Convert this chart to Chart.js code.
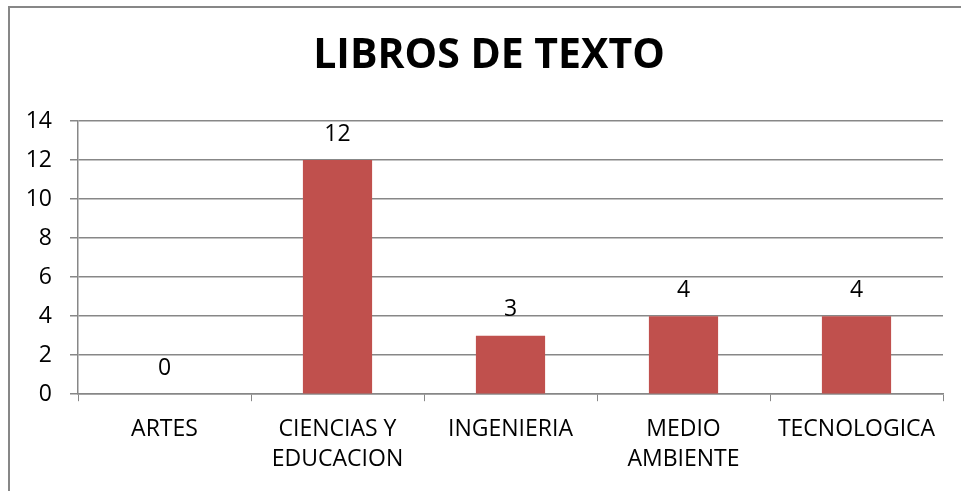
<!DOCTYPE html>
<html>
<head>
<meta charset="utf-8">
<script src="https://cdn.jsdelivr.net/npm/chart.js@4"></script>
<style>
    html, body { margin: 0; padding: 0; background: #fff; overflow: hidden; }
    #wrap { position: relative; width: 961px; height: 491px; }
    #frame { position: absolute; left: 8px; top: 6px; width: 1100px; height: 800px;
             border: 2px solid #878787; pointer-events: none; }
</style>
</head>
<body>
<div id="wrap">
    <canvas id="librosChart" width="961" height="491"></canvas>
    <div id="frame"></div>
</div>
<script>
// Chart data
const categories = ['ARTES', ['CIENCIAS Y', 'EDUCACION'], 'INGENIERIA', ['MEDIO', 'AMBIENTE'], 'TECNOLOGICA'];
const librosValues = [0, 12, 3, 4, 4];
const yTicks = [0, 2, 4, 6, 8, 10, 12, 14];
const chartTitle = 'LIBROS DE TEXTO';

const FONT = "'Open Sans', sans-serif";

// Title is centred on the whole frame (Excel style), not on the plot area
const frameTitle = {
    id: 'frameTitle',
    afterDraw(chart) {
        const ctx = chart.ctx;
        ctx.save();
        ctx.font = 'bold 41px ' + FONT;
        ctx.fillStyle = '#000';
        ctx.textAlign = 'center';
        ctx.textBaseline = 'middle';
        ctx.fillText(chartTitle, 489, 56);
        ctx.restore();
    }
};

// Draws the value above each bar (no datalabels plugin available offline)
const valueLabels = {
    id: 'valueLabels',
    afterDatasetsDraw(chart) {
        const ctx = chart.ctx;
        const meta = chart.getDatasetMeta(0);
        ctx.save();
        ctx.font = '23px ' + FONT;
        ctx.fillStyle = '#000';
        ctx.textAlign = 'center';
        ctx.textBaseline = 'middle';
        meta.data.forEach(function (bar, i) {
            ctx.fillText(String(librosValues[i]), bar.x, bar.y - 26);
        });
        ctx.restore();
    }
};

const ctx = document.getElementById('librosChart').getContext('2d');
new Chart(ctx, {
    type: 'bar',
    data: {
        labels: categories,
        datasets: [{
            label: chartTitle,
            data: librosValues,
            backgroundColor: '#C0504D',
            borderWidth: 0,
            barPercentage: 0.4,
            categoryPercentage: 1.0
        }]
    },
    options: {
        responsive: false,
        animation: false,
        layout: { padding: { left: 0, right: 18, top: 121, bottom: 4 } },
        plugins: {
            legend: { display: false },
            tooltip: { enabled: false },
            title: { display: false }
        },
        scales: {
            x: {
                offset: true,
                grid: { offset: true, drawOnChartArea: false, drawTicks: true, tickLength: 7, color: '#878787' },
                border: { display: true, color: '#878787', width: 1.5 },
                ticks: {
                    color: '#000',
                    padding: 13,
                    maxRotation: 0,
                    autoSkip: false,
                    font: { family: FONT, size: 23, lineHeight: 1.3 }
                }
            },
            y: {
                min: 0,
                max: 14,
                afterBuildTicks(scale) {
                    scale.ticks = yTicks.map(v => ({ value: v }));
                },
                afterFit(scale) { scale.width = 78; },
                grid: { color: '#878787', lineWidth: 1.5, tickLength: 8 },
                border: { display: true, color: '#878787', width: 1.5 },
                ticks: {
                    color: '#000',
                    padding: 18,
                    font: { family: FONT, size: 23 }
                }
            }
        }
    },
    plugins: [valueLabels, frameTitle]
});
</script>
</body>
</html>
